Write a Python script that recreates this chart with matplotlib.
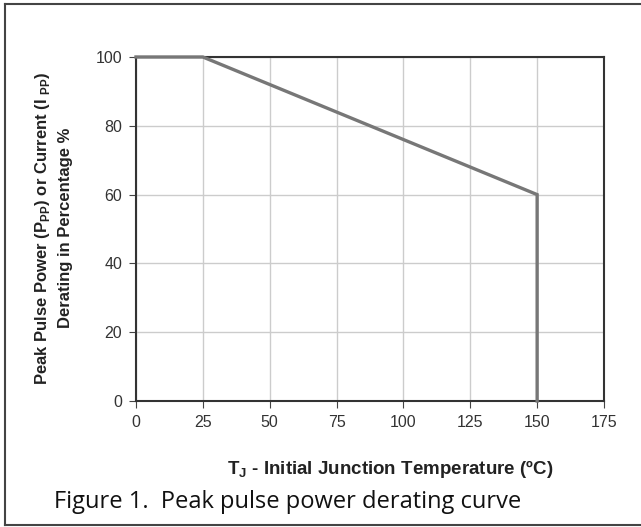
import matplotlib
matplotlib.use("Agg")
import matplotlib.pyplot as plt
from matplotlib.lines import Line2D

temps = [0, 25, 150, 150]
derating = [100, 100, 60, 0]
xticks = [0, 25, 50, 75, 100, 125, 150, 175]
yticks = [0, 20, 40, 60, 80, 100]

narrow = ['Liberation Sans Narrow', 'Liberation Sans', 'DejaVu Sans']

W, H = 641, 527
fig = plt.figure(figsize=(W/100, H/100), dpi=100)
ax = fig.add_axes([136/W, 1-401/H, (604-136)/W, (401-57)/H])

ax.plot(temps, derating, color='#777777', lw=2.4, zorder=5, clip_on=False,
        solid_joinstyle='miter')
ax.set_xlim(0, 175)
ax.set_ylim(0, 100)
ax.set_xticks(xticks)
ax.set_yticks(yticks)
ax.grid(True, color='#cccccc', lw=1.0)
ax.set_axisbelow(True)
for s in ax.spines.values():
    s.set_color('#333333')
    s.set_linewidth(1.5)
ax.tick_params(axis='both', direction='out', length=5, color='#444444',
               labelsize=11.5, labelcolor='#333333', pad=5)
for lab in ax.get_xticklabels() + ax.get_yticklabels():
    lab.set_family(narrow)

ax.set_xlabel(r'T$_\mathregular{J}$ - Initial Junction Temperature (ºC)',
              family=narrow, fontsize=13.5, fontweight='bold', color='#222222')
ax.xaxis.set_label_coords((390-136)/468, (401-458)/344)
ax.set_ylabel(r'Peak Pulse Power (P$_\mathregular{PP}$) or Current (I $_\mathregular{PP}$)' + '\nDerating in Percentage %',
              family=narrow, fontsize=12, fontweight='bold', color='#222222',
              linespacing=1.5)
ax.yaxis.set_label_coords((73-136)/468, (401-228)/344)

fig.text(54/W, 1-502/H, 'Figure 1.  Peak pulse power derating curve',
         family=['Open Sans', 'DejaVu Sans'], fontsize=17, color='#111111',
         va='center', ha='left')

# outer frame
fl = dict(transform=fig.transFigure, color='#444444', lw=1.5)
fig.add_artist(Line2D([4.5/W, 4.5/W], [1-3.5/H, 1-525/H], **fl))
fig.add_artist(Line2D([4.5/W, 1.0], [1-3.5/H, 1-3.5/H], **fl))
fig.add_artist(Line2D([4.5/W, 1.0], [1-525/H, 1-525/H], **fl))

fig.savefig('out.png', dpi=100)
